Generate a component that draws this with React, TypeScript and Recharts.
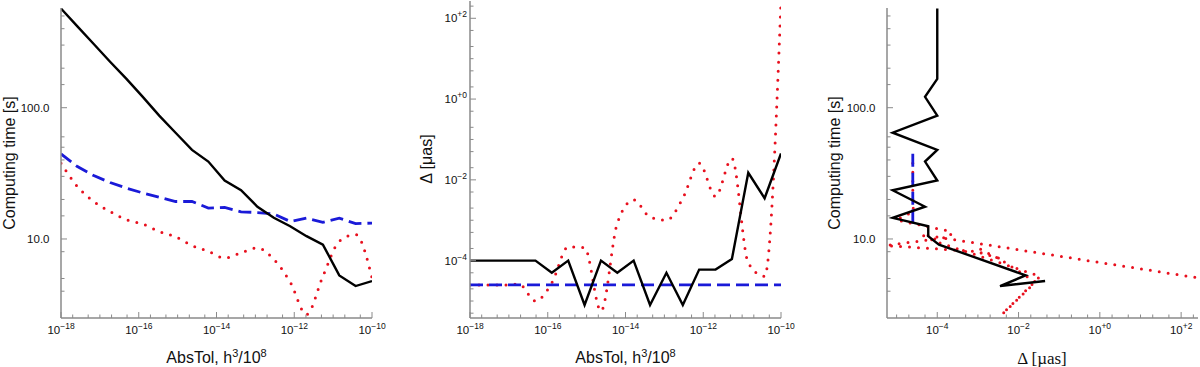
import React from "react";
import { LineChart, Line, XAxis, YAxis } from "recharts";

// AbsTol grid (h^3/10^8), shared by the three panels
const absTol = [
  1e-18, 2.64e-18, 6.95e-18, 1.83e-17, 4.83e-17, 1.27e-16, 3.36e-16, 8.86e-16,
  2.34e-15, 6.16e-15, 1.62e-14, 4.28e-14, 1.13e-13, 2.98e-13, 7.85e-13,
  2.07e-12, 5.46e-12, 1.44e-11, 3.79e-11, 1e-10,
];

// computing time [s]
const timeBlack = [569, 417, 306, 224, 166, 121, 87, 64.5, 47.7, 38.9, 27.9, 23.5, 17.6, 14.5, 12.5, 10.5, 9.06, 5.28, 4.38, 4.78];
const timeBlue = [44.5, 35.6, 30.4, 26.9, 24.4, 22.4, 20.8, 19.3, 19.3, 17.2, 17.4, 16.1, 15.9, 15.5, 13.6, 14.4, 13.4, 14.4, 13.1, 13.2];
const timeRed = [37.8, 25.1, 19.3, 16.2, 14.0, 13.0, 11.4, 10.4, 8.9, 8.05, 7.17, 7.84, 8.55, 7.0, 4.7, 2.66, 5.2, 9.6, 10.8, 5.06];

// Delta [µas]
const deltaBlack = [1e-4, 1e-4, 1e-4, 1e-4, 1e-4, 5e-5, 1e-4, 8e-6, 1e-4, 5e-5, 1e-4, 8e-6, 5e-5, 8e-6, 6e-5, 6e-5, 1.1e-4, 1.5e-2, 3.5e-3, 4.5e-2];
const deltaBlue = [2.5e-5, 2.5e-5, 2.5e-5, 2.5e-5, 2.5e-5, 2.5e-5, 2.5e-5, 2.5e-5, 2.5e-5, 2.5e-5, 2.5e-5, 2.5e-5, 2.5e-5, 2.5e-5, 2.5e-5, 2.5e-5, 2.5e-5, 2.5e-5, 2.5e-5, 2.5e-5];
const deltaRed = [2.5e-5, 2.5e-5, 2.5e-5, 2.6e-5, 1e-5, 2.8e-5, 2.2e-4, 2.1e-4, 5.6e-6, 8.5e-4, 3.2e-3, 1.2e-3, 1.0e-3, 3.5e-3, 2.6e-2, 3.9e-3, 3.4e-2, 8.8e-5, 4.1e-5, 260];

// axis ranges and ticks
const tolDomain = [1e-18, 1e-10];
const timeDomain = [2.5, 575];
const deltaDomain2 = [3.8e-6, 268];
const deltaDomain3 = [5.8e-6, 260];
const timeTicks = [4, 5, 8, 10, 15, 20, 30, 40, 50, 60, 100, 150, 200, 300, 400, 500];
const timeLabels = [10, 100];

const FONT = "'Liberation Sans', Arial, Helvetica, sans-serif";
const FRAME = "#8a8a8a";
const BLACK = "#000000";
const BLUE = "#1a1ad8";
const RED = "#e8101e";

const decadeTicks = (lo: number, hi: number, min: number, max: number) => {
  const out: number[] = [];
  for (let e = lo; e <= hi; e++) {
    for (const m of [1, 2, 5]) {
      const v = m * Math.pow(10, e);
      if (v >= min * 0.999 && v <= max * 1.001) out.push(v);
    }
  }
  return out;
};

const tolTicks = decadeTicks(-18, -10, tolDomain[0], tolDomain[1]);
const delta2Ticks = decadeTicks(-6, 2, deltaDomain2[0], deltaDomain2[1]);
const delta3Ticks = decadeTicks(-6, 2, deltaDomain3[0], deltaDomain3[1]);

const evenDecade = (v: number) => {
  const l = Math.log10(v);
  const r = Math.round(l);
  return Math.abs(l - r) < 1e-6 && r % 2 === 0;
};
const isTimeLabel = (v: number) => timeLabels.some((t) => Math.abs(t - v) < 1e-9);

const expText = (v: number, signed: boolean) => {
  const r = Math.round(Math.log10(v));
  if (r < 0) return "\u2212" + -r;
  return signed ? "+" + r : String(r);
};

const Pow = ({ x, y, anchor, exp }: { x: number; y: number; anchor: string; exp: string }) => (
  <text x={x} y={y} textAnchor={anchor as any} fontSize={11.5} fontFamily={FONT} fill="#111">
    <tspan>10</tspan>
    <tspan dy={-5} fontSize={8.5}>
      {exp}
    </tspan>
  </text>
);

type Side = "bottom" | "top" | "left" | "right";

const makeTick =
  (side: Side, isMajor: (v: number) => boolean, label?: (v: number, x: number, y: number) => React.ReactNode) =>
  (props: any) => {
    const { x, y, payload } = props;
    const v = payload.value as number;
    const major = isMajor(v);
    const len = major ? 6 : 3.5;
    let x2 = x;
    let y2 = y;
    if (side === "bottom") y2 = y - len;
    if (side === "top") y2 = y + len;
    if (side === "left") x2 = x + len;
    if (side === "right") x2 = x - len;
    return (
      <g>
        <line x1={x} y1={y} x2={x2} y2={y2} stroke={FRAME} strokeWidth={1} />
        {major && label ? label(v, x, y) : null}
      </g>
    );
  };

const bottomPow = (signed: boolean) => (v: number, x: number, y: number) =>
  <Pow x={x} y={y + 16} anchor="middle" exp={expText(v, signed)} />;
const leftPow = (signed: boolean) => (v: number, x: number, y: number) =>
  <Pow x={x - 3} y={y + 4} anchor="end" exp={expText(v, signed)} />;
const leftDecimal = (v: number, x: number, y: number) => (
  <text x={x - 11.5} y={y + 4} textAnchor="end" fontSize={11.5} fontFamily={FONT} fill="#111">
    {v.toFixed(1)}
  </text>
);

const axisLine = { stroke: FRAME, strokeWidth: 1.5 };

// rows for the two AbsTol panels
const tolRows = absTol.map((x, i) => ({
  x,
  black: timeBlack[i],
  blue: timeBlue[i],
  red: timeRed[i],
  dBlack: deltaBlack[i],
  dBlue: deltaBlue[i],
  dRed: deltaRed[i],
}));

// parametric rows for panel 3: (Delta, time) along AbsTol
const paramBlack = absTol.map((_, i) => ({ d: deltaBlack[i], t: timeBlack[i] }));
const paramBlue = absTol.map((_, i) => ({ d: deltaBlue[i], t: timeBlue[i] }));
const paramRed = absTol.map((_, i) => ({ d: deltaRed[i], t: timeRed[i] }));

const lineStyles = {
  black: { stroke: BLACK, strokeWidth: 2.4 },
  blue: { stroke: BLUE, strokeWidth: 2.8, strokeDasharray: "13 6" },
  red: { stroke: RED, strokeWidth: 3, strokeDasharray: "0 9", strokeLinecap: "round" as const },
};

const axes = (
  xKey: string,
  xDomain: number[],
  xTicks: number[],
  xMajor: (v: number) => boolean,
  xLabel: (v: number, x: number, y: number) => React.ReactNode,
  yDomain: number[],
  yTicks: number[],
  yMajor: (v: number) => boolean,
  yLabel: (v: number, x: number, y: number) => React.ReactNode,
  yWidth: number
) => [
  <XAxis
    key="xb"
    xAxisId="b"
    dataKey={xKey}
    type="number"
    scale="log"
    domain={xDomain}
    ticks={xTicks}
    interval={0}
    allowDataOverflow
    height={49}
    tickSize={0}
    tickMargin={0}
    tickLine={false}
    axisLine={axisLine}
    tick={makeTick("bottom", xMajor, xLabel)}
  />,
  <XAxis
    key="xt"
    xAxisId="t"
    orientation="top"
    dataKey={xKey}
    type="number"
    scale="log"
    domain={xDomain}
    ticks={xTicks}
    interval={0}
    allowDataOverflow
    height={0}
    tickSize={0}
    tickMargin={0}
    tickLine={false}
    axisLine={axisLine}
    tick={makeTick("top", xMajor)}
  />,
  <YAxis
    key="yl"
    yAxisId="l"
    type="number"
    scale="log"
    domain={yDomain}
    ticks={yTicks}
    interval={0}
    allowDataOverflow
    width={yWidth}
    tickSize={0}
    tickMargin={0}
    tickLine={false}
    axisLine={axisLine}
    tick={makeTick("left", yMajor, yLabel)}
  />,
  <YAxis
    key="yr"
    yAxisId="r"
    orientation="right"
    type="number"
    scale="log"
    domain={yDomain}
    ticks={yTicks}
    interval={0}
    allowDataOverflow
    width={0}
    tickSize={0}
    tickMargin={0}
    tickLine={false}
    axisLine={axisLine}
    tick={makeTick("right", yMajor)}
  />,
];

const Titles = () => (
  <svg
    width={1200}
    height={367}
    style={{ position: "absolute", left: 0, top: 0, pointerEvents: "none" }}
  >
    <g fontFamily={FONT} fontSize={16} fill="#111">
      <text x={15} y={163} textAnchor="middle" transform="rotate(-90 15 163)">
        Computing time [s]
      </text>
      <text x={216.5} y={363} textAnchor="middle">
        AbsTol, h<tspan dy={-6} fontSize={11}>3</tspan>
        <tspan dy={6}>/10</tspan>
        <tspan dy={-6} fontSize={11}>8</tspan>
      </text>
      <text x={432} y={159} textAnchor="middle" transform="rotate(-90 432 159)">
        Δ [μas]
      </text>
      <text x={625.5} y={363} textAnchor="middle">
        AbsTol, h<tspan dy={-6} fontSize={11}>3</tspan>
        <tspan dy={6}>/10</tspan>
        <tspan dy={-6} fontSize={11}>8</tspan>
      </text>
      <text x={840} y={163} textAnchor="middle" transform="rotate(-90 840 163)">
        Computing time [s]
      </text>
    </g>
    <text
      x={1042}
      y={364}
      textAnchor="middle"
      fontFamily="'Liberation Serif', 'Times New Roman', serif"
      fontSize={17}
      fill="#111"
    >
      Δ [µas]
    </text>
  </svg>
);

export default function App() {
  return (
    <div style={{ position: "absolute", left: 0, top: 0, width: 1200, height: 367, background: "#fff", overflow: "hidden" }}>
      {/* panel 1: computing time vs AbsTol */}
      <div style={{ position: "absolute", left: 0, top: 0 }}>
        <LineChart width={400} height={367} data={tolRows} margin={{ top: 8, right: 28, bottom: 0, left: 0 }}>
          {axes("x", tolDomain, tolTicks, evenDecade, bottomPow(false), timeDomain, timeTicks, isTimeLabel, leftDecimal, 61)}
          <Line xAxisId="b" yAxisId="l" dataKey="red" type="monotone" dot={false} activeDot={false} isAnimationActive={false} {...lineStyles.red} />
          <Line xAxisId="b" yAxisId="l" dataKey="blue" type="linear" dot={false} activeDot={false} isAnimationActive={false} {...lineStyles.blue} />
          <Line xAxisId="b" yAxisId="l" dataKey="black" type="linear" dot={false} activeDot={false} isAnimationActive={false} {...lineStyles.black} />
        </LineChart>
      </div>
      {/* panel 2: Delta vs AbsTol */}
      <div style={{ position: "absolute", left: 400, top: 0 }}>
        <LineChart width={400} height={367} data={tolRows} margin={{ top: 1, right: 19, bottom: 0, left: 0 }}>
          {axes("x", tolDomain, tolTicks, evenDecade, bottomPow(false), deltaDomain2, delta2Ticks, evenDecade, leftPow(true), 70)}
          <Line xAxisId="b" yAxisId="l" dataKey="dRed" type="monotone" dot={false} activeDot={false} isAnimationActive={false} {...lineStyles.red} />
          <Line xAxisId="b" yAxisId="l" dataKey="dBlue" type="linear" dot={false} activeDot={false} isAnimationActive={false} {...lineStyles.blue} />
          <Line xAxisId="b" yAxisId="l" dataKey="dBlack" type="linear" dot={false} activeDot={false} isAnimationActive={false} {...lineStyles.black} />
        </LineChart>
      </div>
      {/* panel 3: computing time vs Delta */}
      <div style={{ position: "absolute", left: 800, top: 0 }}>
        <LineChart width={400} height={367} margin={{ top: 8, right: 2, bottom: 0, left: 0 }}>
          {axes("d", deltaDomain3, delta3Ticks, evenDecade, bottomPow(true), timeDomain, timeTicks, isTimeLabel, leftDecimal, 87)}
          <Line xAxisId="b" yAxisId="l" data={paramRed} dataKey="t" type="linear" dot={false} activeDot={false} isAnimationActive={false} {...lineStyles.red} />
          <Line xAxisId="b" yAxisId="l" data={paramBlue} dataKey="t" type="linear" dot={false} activeDot={false} isAnimationActive={false} {...lineStyles.blue} />
          <Line xAxisId="b" yAxisId="l" data={paramBlack} dataKey="t" type="linear" dot={false} activeDot={false} isAnimationActive={false} {...lineStyles.black} />
        </LineChart>
      </div>
      <Titles />
    </div>
  );
}
